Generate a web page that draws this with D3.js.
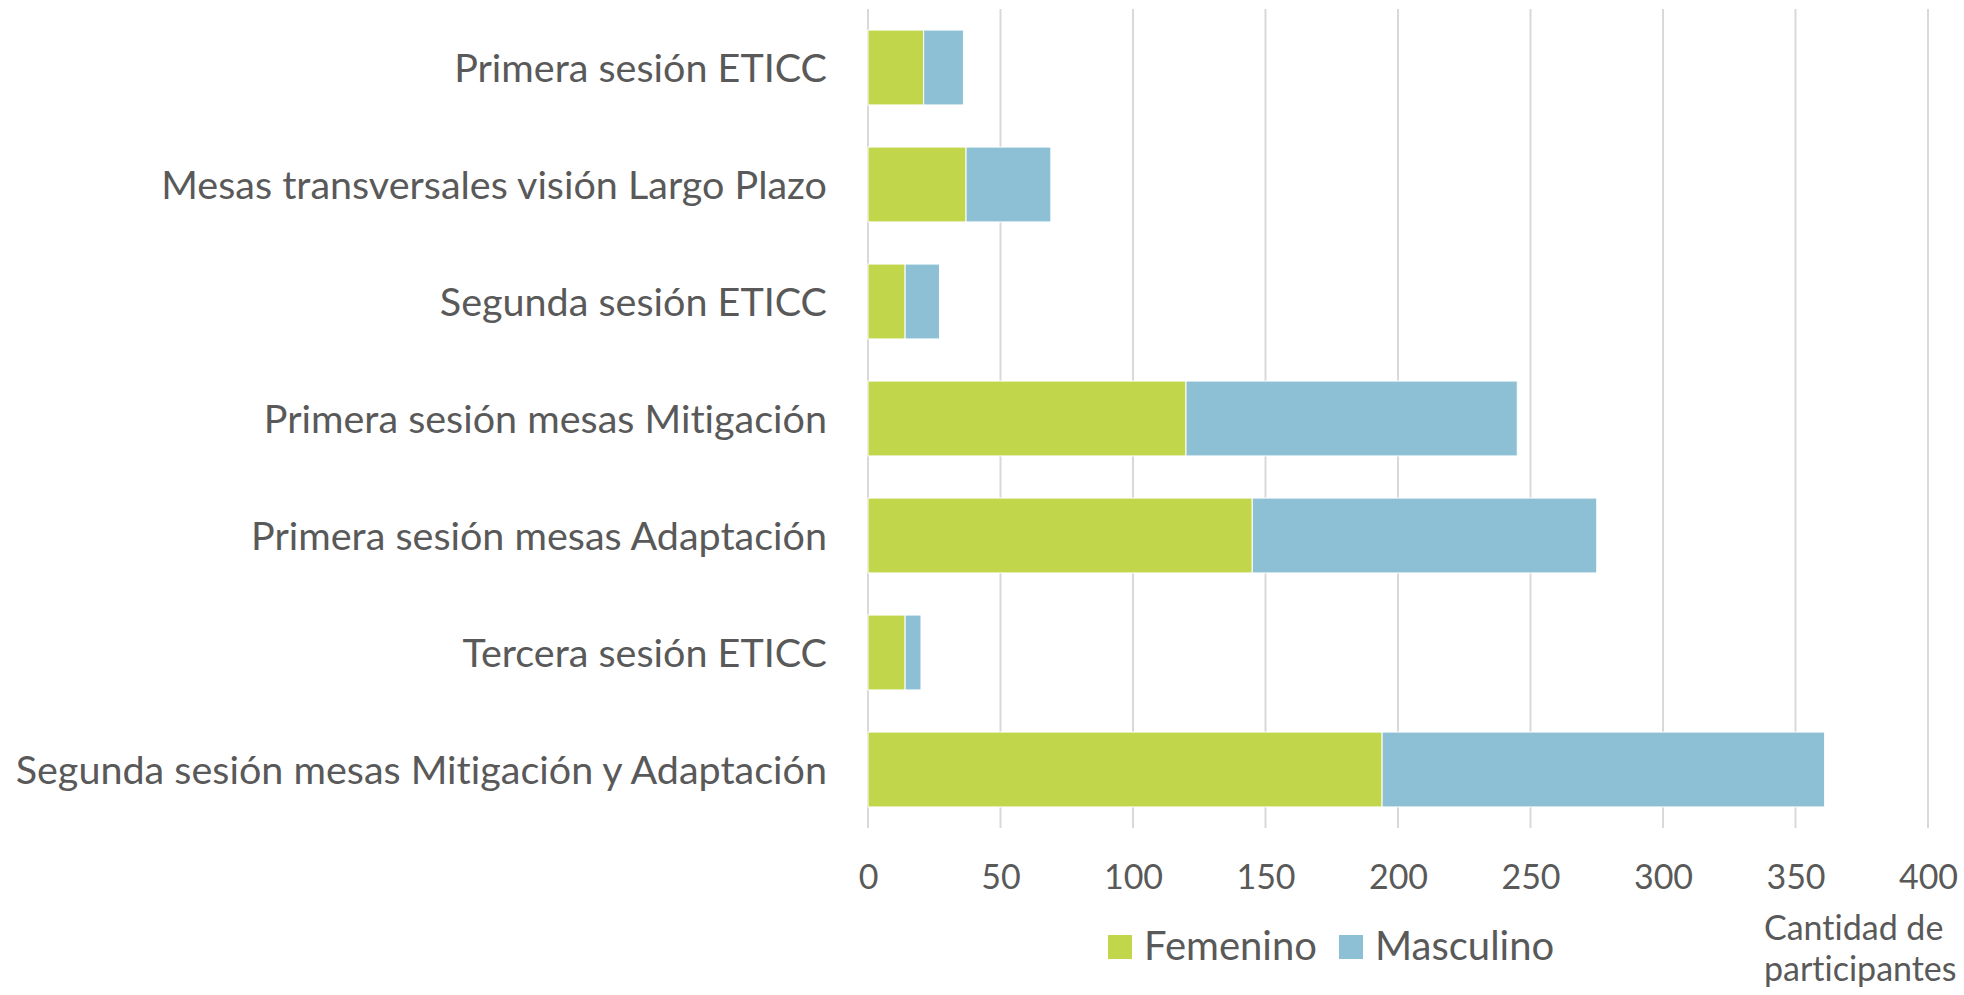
<!DOCTYPE html>
<html>
<head>
<meta charset="utf-8">
<script src="https://cdn.jsdelivr.net/npm/d3@7"></script>
<style>
  html, body { margin: 0; padding: 0; background: #fff; }
  svg text { font-family: Lato, "Open Sans", sans-serif; fill: #595959; font-variant-ligatures: none; }
</style>
</head>
<body>
<div id="root"></div>
<script>
const categories = [
  'Primera sesión ETICC',
  'Mesas transversales visión Largo Plazo',
  'Segunda sesión ETICC',
  'Primera sesión mesas Mitigación',
  'Primera sesión mesas Adaptación',
  'Tercera sesión ETICC',
  'Segunda sesión mesas Mitigación y Adaptación',
];
const femenino = [21, 37, 14, 120, 145, 14, 194];
const masculino = [15, 32, 13, 125, 130, 6, 167];
const seriesNames = ['Femenino', 'Masculino'];
const seriesColors = ['#C2D64C', '#8DC0D5'];
const xTicks = [0, 50, 100, 150, 200, 250, 300, 350, 400];
const axisTitle = ['Cantidad de', 'participantes'];

const width = 1964;
const height = 995;
const plot = { left: 868, right: 1928, top: 9, bottom: 828 };

const svg = d3.select('#root').append('svg')
  .attr('width', width)
  .attr('height', height);

const xScale = d3.scaleLinear()
  .domain([0, 400])
  .range([plot.left, plot.right]);

const yScale = d3.scaleBand()
  .domain(categories)
  .range([plot.top, plot.bottom])
  .paddingInner(0.36)
  .paddingOuter(0.18);

// gridlines
svg.append('g')
  .selectAll('line')
  .data(xTicks)
  .enter()
  .append('line')
  .attr('x1', d => xScale(d))
  .attr('x2', d => xScale(d))
  .attr('y1', plot.top)
  .attr('y2', plot.bottom)
  .attr('stroke', '#D9D9D9')
  .attr('stroke-width', 2);

// stacked bars
const rows = categories.map((c, i) => ({ category: c, Femenino: femenino[i], Masculino: masculino[i] }));
const stacked = d3.stack().keys(seriesNames)(rows);

svg.append('g')
  .selectAll('g')
  .data(stacked)
  .enter()
  .append('g')
  .attr('fill', (d, i) => seriesColors[i])
  .selectAll('rect')
  .data(d => d)
  .enter()
  .append('rect')
  .attr('x', d => xScale(d[0]))
  .attr('y', d => yScale(d.data.category))
  .attr('width', d => xScale(d[1]) - xScale(d[0]))
  .attr('height', yScale.bandwidth())
  .attr('stroke', '#fff')
  .attr('stroke-width', 1);

// category labels
const yAxis = d3.axisLeft(yScale).tickSize(0).tickPadding(41);
svg.append('g')
  .attr('transform', `translate(${plot.left}, 0)`)
  .call(yAxis)
  .attr('font-family', null)
  .call(g => g.select('.domain').remove())
  .selectAll('text')
  .attr('font-size', 39.5)
  .attr('dy', '0.36em');

// x tick labels
const xAxis = d3.axisBottom(xScale).tickValues(xTicks).tickSize(0).tickPadding(0);
svg.append('g')
  .attr('transform', `translate(0, 889)`)
  .call(xAxis)
  .attr('font-family', null)
  .call(g => g.select('.domain').remove())
  .selectAll('text')
  .attr('dy', 0)
  .attr('y', 0)
  .attr('font-size', 34);

svg.selectAll('.tick text').style('fill', '#595959');

// legend
const legend = svg.append('g').attr('transform', 'translate(1108, 935)');
const legendX = [0, 231];
seriesNames.forEach((name, i) => {
  const item = legend.append('g').attr('transform', `translate(${legendX[i]}, 0)`);
  item.append('rect')
    .attr('width', 24)
    .attr('height', 24)
    .attr('fill', seriesColors[i]);
  item.append('text')
    .attr('x', 36)
    .attr('y', 25)
    .attr('font-size', 40)
    .text(name);
});

// axis title
svg.append('text')
  .attr('x', 1764)
  .attr('y', 940)
  .attr('font-size', 34)
  .selectAll('tspan')
  .data(axisTitle)
  .enter()
  .append('tspan')
  .attr('x', 1764)
  .attr('dy', (d, i) => i === 0 ? 0 : 41)
  .text(d => d);
</script>
</body>
</html>
